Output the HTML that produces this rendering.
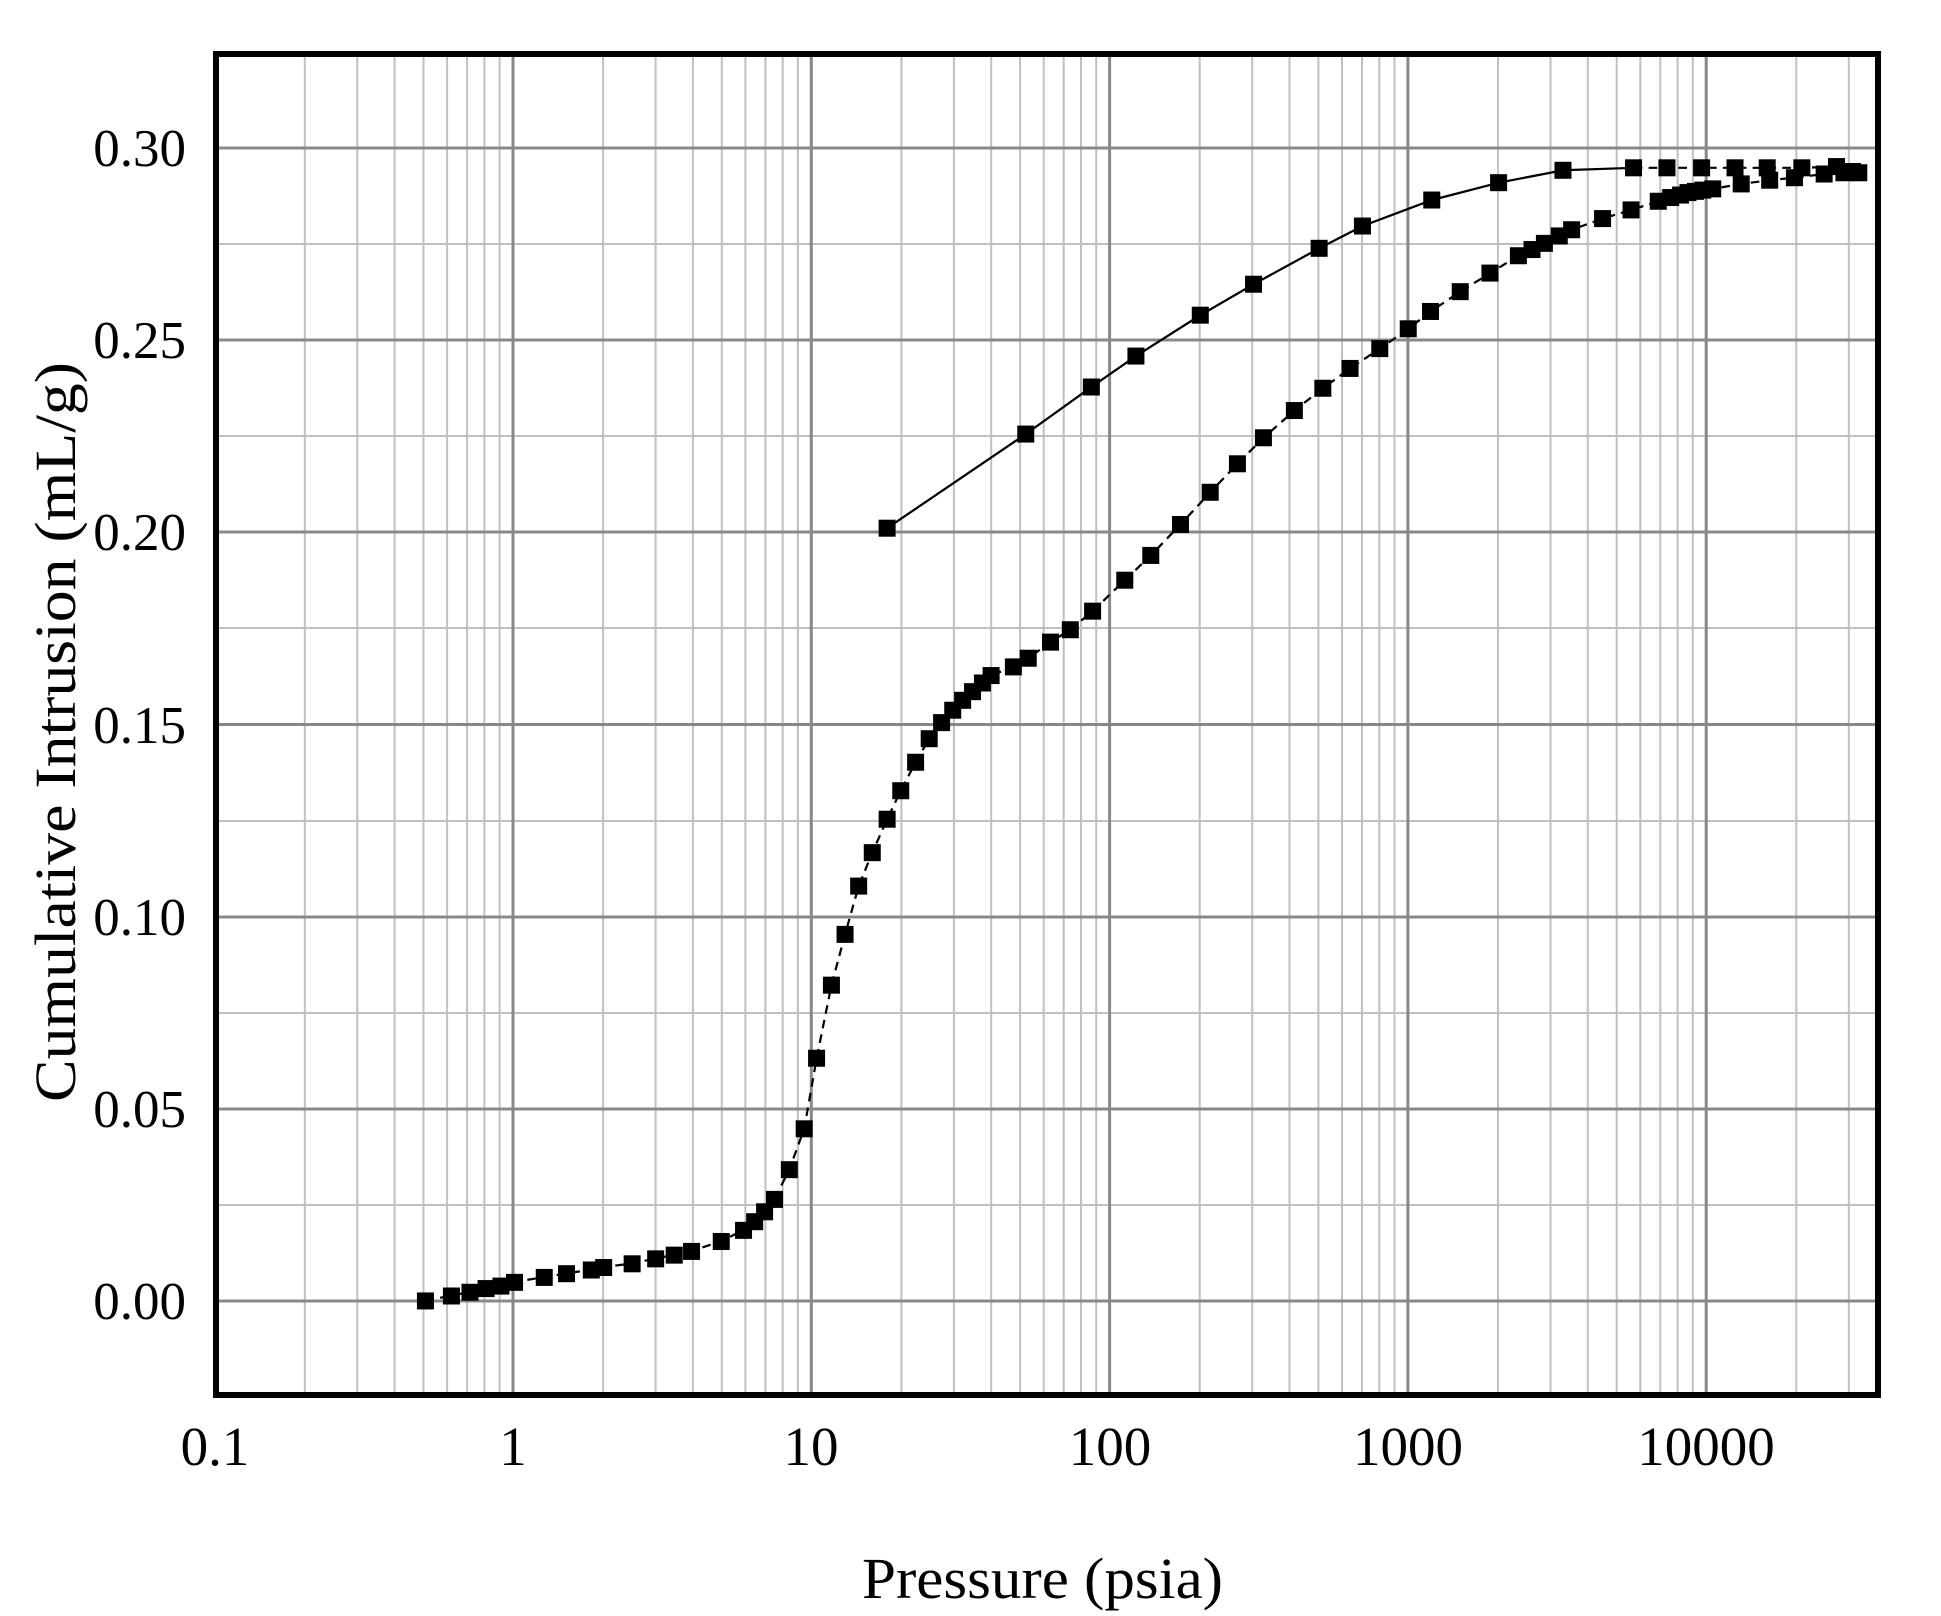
<!DOCTYPE html>
<html><head><meta charset="utf-8"><style>
html,body{margin:0;padding:0;background:#fff;}
svg{display:block;}
text{font-family:"Liberation Serif",serif;fill:#000;}
</style></head><body>
<svg width="1941" height="1616" viewBox="0 0 1941 1616" xmlns="http://www.w3.org/2000/svg">
<rect width="1941" height="1616" fill="#fff"/>
<g id="grid">
<g stroke="#c0c0c0" stroke-width="2">
<line x1="304.8" y1="54" x2="304.8" y2="1395"/><line x1="357.3" y1="54" x2="357.3" y2="1395"/><line x1="394.6" y1="54" x2="394.6" y2="1395"/><line x1="423.5" y1="54" x2="423.5" y2="1395"/><line x1="447.1" y1="54" x2="447.1" y2="1395"/><line x1="467.1" y1="54" x2="467.1" y2="1395"/><line x1="484.4" y1="54" x2="484.4" y2="1395"/><line x1="499.6" y1="54" x2="499.6" y2="1395"/>
<line x1="603.1" y1="54" x2="603.1" y2="1395"/><line x1="655.6" y1="54" x2="655.6" y2="1395"/><line x1="692.9" y1="54" x2="692.9" y2="1395"/><line x1="721.8" y1="54" x2="721.8" y2="1395"/><line x1="745.4" y1="54" x2="745.4" y2="1395"/><line x1="765.4" y1="54" x2="765.4" y2="1395"/><line x1="782.7" y1="54" x2="782.7" y2="1395"/><line x1="797.9" y1="54" x2="797.9" y2="1395"/>
<line x1="901.4" y1="54" x2="901.4" y2="1395"/><line x1="953.9" y1="54" x2="953.9" y2="1395"/><line x1="991.2" y1="54" x2="991.2" y2="1395"/><line x1="1020.1" y1="54" x2="1020.1" y2="1395"/><line x1="1043.7" y1="54" x2="1043.7" y2="1395"/><line x1="1063.7" y1="54" x2="1063.7" y2="1395"/><line x1="1081" y1="54" x2="1081" y2="1395"/><line x1="1096.2" y1="54" x2="1096.2" y2="1395"/>
<line x1="1199.7" y1="54" x2="1199.7" y2="1395"/><line x1="1252.2" y1="54" x2="1252.2" y2="1395"/><line x1="1289.5" y1="54" x2="1289.5" y2="1395"/><line x1="1318.4" y1="54" x2="1318.4" y2="1395"/><line x1="1342" y1="54" x2="1342" y2="1395"/><line x1="1362" y1="54" x2="1362" y2="1395"/><line x1="1379.3" y1="54" x2="1379.3" y2="1395"/><line x1="1394.5" y1="54" x2="1394.5" y2="1395"/>
<line x1="1498" y1="54" x2="1498" y2="1395"/><line x1="1550.5" y1="54" x2="1550.5" y2="1395"/><line x1="1587.8" y1="54" x2="1587.8" y2="1395"/><line x1="1616.7" y1="54" x2="1616.7" y2="1395"/><line x1="1640.3" y1="54" x2="1640.3" y2="1395"/><line x1="1660.3" y1="54" x2="1660.3" y2="1395"/><line x1="1677.6" y1="54" x2="1677.6" y2="1395"/><line x1="1692.8" y1="54" x2="1692.8" y2="1395"/>
<line x1="1796.3" y1="54" x2="1796.3" y2="1395"/><line x1="1848.8" y1="54" x2="1848.8" y2="1395"/>
<line x1="216" y1="244" x2="1878" y2="244"/><line x1="216" y1="436" x2="1878" y2="436"/><line x1="216" y1="628" x2="1878" y2="628"/><line x1="216" y1="821" x2="1878" y2="821"/><line x1="216" y1="1013" x2="1878" y2="1013"/><line x1="216" y1="1205" x2="1878" y2="1205"/>
</g>
<g stroke="#888" stroke-width="3">
<line x1="513" y1="54" x2="513" y2="1395"/><line x1="811.3" y1="54" x2="811.3" y2="1395"/><line x1="1109.6" y1="54" x2="1109.6" y2="1395"/><line x1="1407.9" y1="54" x2="1407.9" y2="1395"/><line x1="1706.2" y1="54" x2="1706.2" y2="1395"/>
<line x1="216" y1="148" x2="1878" y2="148"/><line x1="216" y1="340" x2="1878" y2="340"/><line x1="216" y1="532" x2="1878" y2="532"/><line x1="216" y1="724.5" x2="1878" y2="724.5"/><line x1="216" y1="917" x2="1878" y2="917"/><line x1="216" y1="1109" x2="1878" y2="1109"/><line x1="216" y1="1301" x2="1878" y2="1301"/>
</g>
</g>
<g transform="translate(215,148) scale(1.238) translate(-174,-118)">
<polyline fill="none" stroke="#000" stroke-width="1.8" stroke-dasharray="7,5" points="344,1049 365,1045 380,1042 393,1039 405,1037 416,1034 440,1030 458,1027 478,1024 488,1022 511,1019 530,1015 545,1012 559,1009 583,1001 601,992 610,985 618,977 626,967 638,943 650,910 660,853 672,794 683,753 694,714 705,687 717,660 728,637 740,614 751,595 761,582 770,572 778,564 786,557 794,550 801,544 819,537 831,530 849,517 865,507 883,492 909,467 930,447 954,422 978,396 1000,373 1021,352 1046,330 1069,312 1091,296 1115,280 1138,264 1156,250 1180,234 1204,219 1227,205 1238,200 1248,195 1260,189 1270,184 1295,175 1318,168 1340,161 1350,158 1358,156 1364,154 1370,153 1376,152 1384,151 1407,147 1430,144 1450,142 1474,139 1490,138 1502,138"/>
<polyline fill="none" stroke="#000" stroke-width="1.8" points="717,425 829,349 882,311 918,286 970,253 1013,228 1066,199 1101,181 1157,160 1211,146 1263,136 1320,134"/>
<polyline fill="none" stroke="#000" stroke-width="1.8" stroke-dasharray="7,5" points="1320,134 1347,134 1375,134 1402,134 1428,134 1456,134 1484,133 1497,137"/>
</g>
<g id="pts"></g>
<rect x="216" y="54" width="1662" height="1341" fill="none" stroke="#000" stroke-width="6"/>
<g font-size="53" text-anchor="end">
<text x="186" y="166">0.30</text><text x="186" y="358">0.25</text><text x="186" y="550">0.20</text><text x="186" y="743">0.15</text><text x="186" y="935">0.10</text><text x="186" y="1127">0.05</text><text x="186" y="1319">0.00</text>
</g>
<g font-size="55" text-anchor="middle">
<text x="215" y="1465">0.1</text><text x="513" y="1465">1</text><text x="811" y="1465">10</text><text x="1110" y="1465">100</text><text x="1408" y="1465">1000</text><text x="1706" y="1465">10000</text>
</g>
<text x="862" y="1598" font-size="58" textLength="361" lengthAdjust="spacingAndGlyphs">Pressure (psia)</text>
<text transform="translate(75,732) rotate(-90)" text-anchor="middle" font-size="58" textLength="740" lengthAdjust="spacingAndGlyphs">Cumulative Intrusion (mL/g)</text>
<script>
(function(){
var a=[[344,1049],[365,1045],[380,1042],[393,1039],[405,1037],[416,1034],[440,1030],[458,1027],[478,1024],[488,1022],[511,1019],[530,1015],[545,1012],[559,1009],[583,1001],[601,992],[610,985],[618,977],[626,967],[638,943],[650,910],[660,853],[672,794],[683,753],[694,714],[705,687],[717,660],[728,637],[740,614],[751,595],[761,582],[770,572],[778,564],[786,557],[794,550],[801,544],[819,537],[831,530],[849,517],[865,507],[883,492],[909,467],[930,447],[954,422],[978,396],[1000,373],[1021,352],[1046,330],[1069,312],[1091,296],[1115,280],[1138,264],[1156,250],[1180,234],[1204,219],[1227,205],[1238,200],[1248,195],[1260,189],[1270,184],[1295,175],[1318,168],[1340,161],[1350,158],[1358,156],[1364,154],[1370,153],[1376,152],[1384,151],[1407,147],[1430,144],[1450,142],[1474,139],[1490,138],[1502,138],
[717,425],[829,349],[882,311],[918,286],[970,253],[1013,228],[1066,199],[1101,181],[1157,160],[1211,146],[1263,136],[1320,134],[1347,134],[1375,134],[1402,134],[1428,134],[1456,134],[1484,133],[1497,137]];
var g=document.getElementById('pts'),ns='http://www.w3.org/2000/svg';
a.forEach(function(p){var x=215+(p[0]-174)*1.2378,y=148+(p[1]-118)*1.2384;var r=document.createElementNS(ns,'rect');r.setAttribute('x',x-8.5);r.setAttribute('y',y-8.5);r.setAttribute('width',17);r.setAttribute('height',17);r.setAttribute('fill','#000');g.appendChild(r);});
})();
</script>
</svg>
</body></html>
